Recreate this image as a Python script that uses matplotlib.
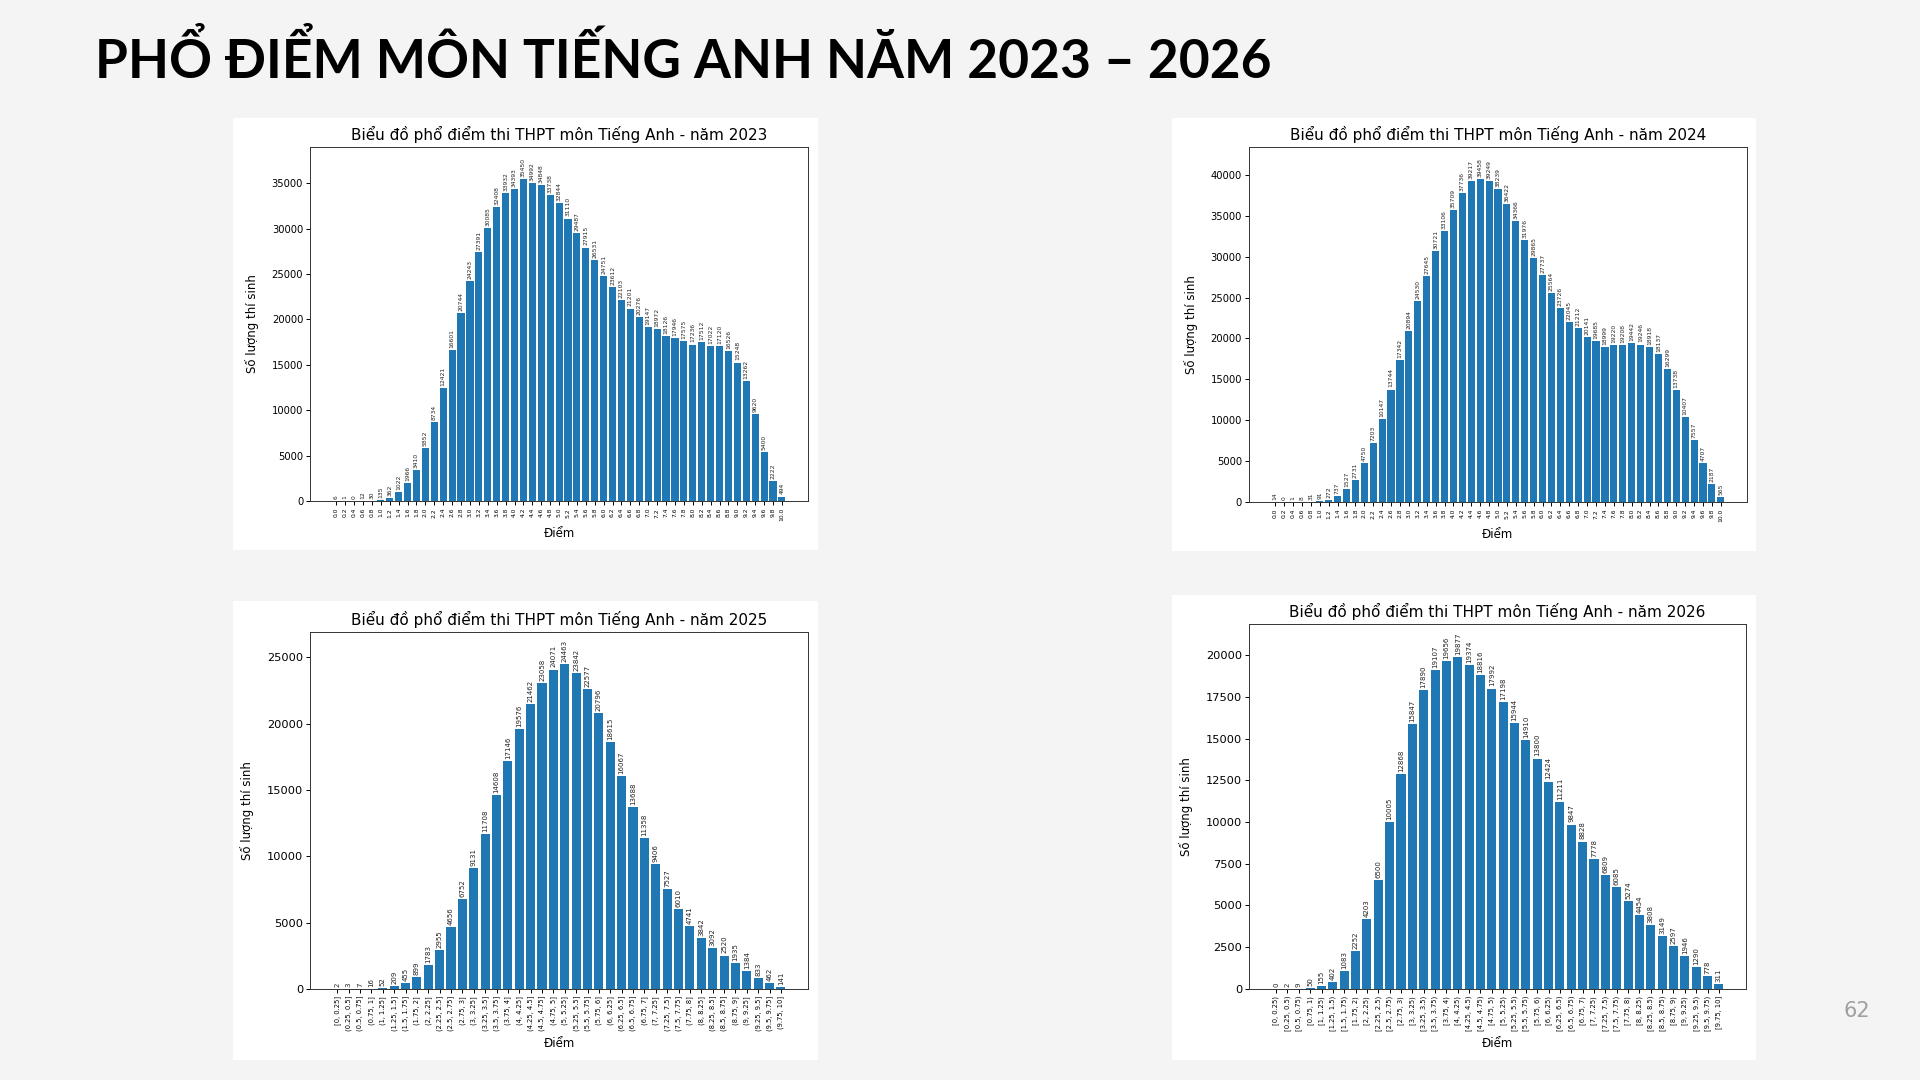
import matplotlib.pyplot as plt
from matplotlib.patches import Rectangle

plt.rcParams['font.family'] = ['DejaVu Sans']

# nhãn trục x cho 2023, 2024 (bước 0.2)
diem_buoc_02 = ['0.0', '0.2', '0.4', '0.6', '0.8', '1.0', '1.2', '1.4', '1.6', '1.8',
                '2.0', '2.2', '2.4', '2.6', '2.8', '3.0', '3.2', '3.4', '3.6', '3.8',
                '4.0', '4.2', '4.4', '4.6', '4.8', '5.0', '5.2', '5.4', '5.6', '5.8',
                '6.0', '6.2', '6.4', '6.6', '6.8', '7.0', '7.2', '7.4', '7.6', '7.8',
                '8.0', '8.2', '8.4', '8.6', '8.8', '9.0', '9.2', '9.4', '9.6', '9.8', '10.0']

sl_2023 = [6, 1, 0, 12, 30, 135, 362, 1022, 1966, 3410,
           5852, 8734, 12421, 16601, 20744, 24243, 27391, 30085, 32408, 33932,
           34393, 35450, 34992, 34848, 33738, 32844, 31110, 29487, 27915, 26531,
           24751, 23612, 22103, 21201, 20276, 19147, 18972, 18126, 17946, 17575,
           17236, 17512, 17022, 17120, 16526, 15248, 13262, 9620, 5400, 2222, 494]

sl_2024 = [14, 0, 1, 8, 31, 91, 272, 737, 1527, 2731,
           4750, 7203, 10147, 13744, 17342, 20894, 24530, 27645, 30721, 33106,
           35709, 37736, 39217, 39458, 39249, 38239, 36422, 34366, 31976, 29865,
           27737, 25564, 23726, 22045, 21212, 20141, 19685, 18999, 19220, 19208,
           19442, 19246, 18918, 18137, 16299, 13738, 10407, 7557, 4707, 2187, 565]

khoang_2025 = ['[0, 0.25]', '(0.25, 0.5]', '(0.5, 0.75]', '(0.75, 1]', '(1, 1.25]',
               '(1.25, 1.5]', '(1.5, 1.75]', '(1.75, 2]', '(2, 2.25]', '(2.25, 2.5]',
               '(2.5, 2.75]', '(2.75, 3]', '(3, 3.25]', '(3.25, 3.5]', '(3.5, 3.75]',
               '(3.75, 4]', '(4, 4.25]', '(4.25, 4.5]', '(4.5, 4.75]', '(4.75, 5]',
               '(5, 5.25]', '(5.25, 5.5]', '(5.5, 5.75]', '(5.75, 6]', '(6, 6.25]',
               '(6.25, 6.5]', '(6.5, 6.75]', '(6.75, 7]', '(7, 7.25]', '(7.25, 7.5]',
               '(7.5, 7.75]', '(7.75, 8]', '(8, 8.25]', '(8.25, 8.5]', '(8.5, 8.75]',
               '(8.75, 9]', '(9, 9.25]', '(9.25, 9.5]', '(9.5, 9.75]', '(9.75, 10]']

sl_2025 = [2, 3, 7, 16, 52, 209, 455, 899, 1783, 2955,
           4656, 6752, 9131, 11708, 14608, 17146, 19576, 21462, 23058, 24071,
           24463, 23842, 22577, 20796, 18615, 16067, 13688, 11358, 9406, 7527,
           6010, 4741, 3842, 3092, 2520, 1935, 1384, 833, 462, 141]

khoang_2026 = ['[0, 0.25)', '[0.25, 0.5)', '[0.5, 0.75)', '[0.75, 1)', '[1, 1.25)',
               '[1.25, 1.5)', '[1.5, 1.75)', '[1.75, 2)', '[2, 2.25)', '[2.25, 2.5)',
               '[2.5, 2.75)', '[2.75, 3)', '[3, 3.25)', '[3.25, 3.5)', '[3.5, 3.75)',
               '[3.75, 4)', '[4, 4.25)', '[4.25, 4.5)', '[4.5, 4.75)', '[4.75, 5)',
               '[5, 5.25)', '[5.25, 5.5)', '[5.5, 5.75)', '[5.75, 6)', '[6, 6.25)',
               '[6.25, 6.5)', '[6.5, 6.75)', '[6.75, 7)', '[7, 7.25)', '[7.25, 7.5)',
               '[7.5, 7.75)', '[7.75, 8)', '[8, 8.25)', '[8.25, 8.5)', '[8.5, 8.75)',
               '[8.75, 9)', '[9, 9.25)', '[9.25, 9.5)', '[9.5, 9.75)', '[9.75, 10]']

sl_2026 = [0, 2, 9, 50, 155, 402, 1083, 2252, 4203, 6500,
           10005, 12868, 15847, 17890, 19107, 19656, 19877, 19374, 18816, 17992,
           17198, 15944, 14910, 13800, 12424, 11211, 9847, 8828, 7778, 6809,
           6085, 5274, 4454, 3808, 3149, 2597, 1946, 1290, 778, 311]

fig = plt.figure(figsize=(19.2, 10.8), dpi=100)
fig.patch.set_facecolor('#f4f4f4')


def ve_pho_diem(khung, vi_tri, nhan, so_luong, nam, co_tick, co_so, co_y):
    # nền trắng của ảnh biểu đồ
    fig.add_artist(Rectangle(khung[:2], khung[2], khung[3], transform=fig.transFigure,
                             facecolor='white', edgecolor='none', zorder=-1))
    ax = fig.add_axes(vi_tri)
    x = list(range(len(so_luong)))
    bars = ax.bar(x, so_luong, color='#1f77b4', width=0.8)
    ax.bar_label(bars, labels=[str(v) for v in so_luong], rotation=90,
                 fontsize=co_so, padding=1.5, color='#222222')
    ax.set_xticks(x)
    ax.set_xticklabels(nhan, rotation=90, fontsize=co_tick)
    ax.set_ylim(0, max(so_luong) * 1.1)
    ax.tick_params(axis='y', labelsize=co_y, length=3, width=0.7, pad=2)
    ax.tick_params(axis='x', length=3, width=0.7, pad=2)
    for s in ax.spines.values():
        s.set_linewidth(0.7)
        s.set_color('#333333')
    ax.set_title(f'Biểu đồ phổ điểm thi THPT môn Tiếng Anh - năm {nam}', fontsize=11, pad=5)
    ax.set_xlabel('Điểm', fontsize=8.5, labelpad=4)
    ax.set_ylabel('Số lượng thí sinh', fontsize=8.5, labelpad=9)
    return ax


ve_pho_diem((0.1214, 0.4907, 0.3047, 0.40), (0.1615, 0.5361, 0.2594, 0.3278),
            diem_buoc_02, sl_2023, 2023, 4.3, 4.3, 7.2)
ve_pho_diem((0.6104, 0.4898, 0.3042, 0.4009), (0.6505, 0.5352, 0.2594, 0.3287),
            diem_buoc_02, sl_2024, 2024, 4.3, 4.3, 7.2)
ve_pho_diem((0.1214, 0.0185, 0.3047, 0.425), (0.1615, 0.0843, 0.2594, 0.3306),
            khoang_2025, sl_2025, 2025, 4.9, 5.0, 8.2)
ve_pho_diem((0.6104, 0.0185, 0.3042, 0.4306), (0.6505, 0.0843, 0.2589, 0.3380),
            khoang_2026, sl_2026, 2026, 4.9, 5.0, 8.2)

fig.text(0.0495, 0.945, 'PHỔ ĐIỂM MÔN TIẾNG ANH NĂM 2023 – 2026', fontsize=38.3,
         fontweight='bold', family=['Lato', 'DejaVu Sans'], va='center', ha='left', color='black')
fig.text(0.967, 0.064, '62', fontsize=15, color='#a0a0a0', ha='center', va='center')

fig.savefig('out.png', dpi=100, facecolor=fig.get_facecolor())
